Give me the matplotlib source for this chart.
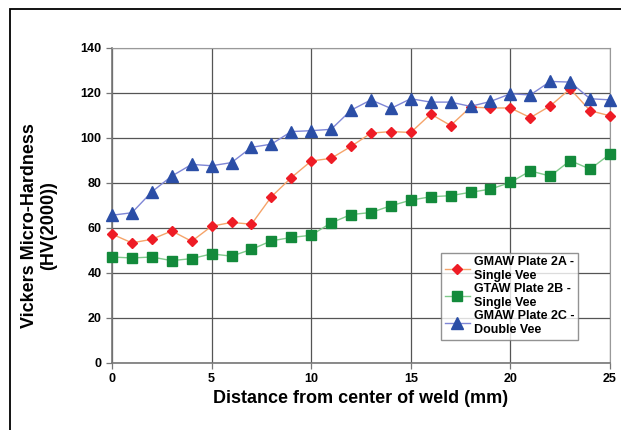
import matplotlib
matplotlib.use("Agg")
import matplotlib.pyplot as plt
from matplotlib.patches import Rectangle

distance = list(range(0, 26))
plate_2a = [57.1, 53.2, 54.8, 58.5, 53.9, 60.6, 62.3, 61.5, 73.7, 82.2, 89.6, 90.8, 96.1,
            102.0, 102.7, 102.3, 110.5, 105.4, 113.6, 113.2, 113.2, 108.9, 114.1, 121.7, 112.0, 109.7]
plate_2b = [46.9, 46.5, 46.9, 45.3, 46.2, 48.3, 47.3, 50.3, 54.1, 55.6, 56.6, 62.1, 65.8,
            66.7, 69.7, 72.2, 73.7, 74.2, 75.7, 77.1, 80.1, 85.2, 82.9, 89.8, 86.0, 92.7]
plate_2c = [65.5, 66.6, 75.9, 82.9, 88.1, 87.5, 88.9, 95.7, 97.1, 102.7, 103.1, 103.7, 112.2,
            116.8, 113.0, 117.3, 115.8, 115.8, 113.9, 116.1, 119.5, 119.0, 125.0, 124.7, 117.3, 116.8]
labels = ["GMAW Plate 2A -\nSingle Vee", "GTAW Plate 2B -\nSingle Vee", "GMAW Plate 2C -\nDouble Vee"]

plt.rcParams['font.family'] = ['Liberation Sans', 'DejaVu Sans']

fig = plt.figure(figsize=(6.21, 4.30), dpi=100)
W, H = 621, 430
ax = fig.add_axes([112 / W, 1 - 362.5 / H, (610 - 112) / W, (362.5 - 47.7) / H])

# outer frame
fig.patches.append(Rectangle((9.5 / W, -0.1), 1.2, 1 - 8.5 / H + 0.1, transform=fig.transFigure,
                             fill=False, edgecolor='black', linewidth=1.3))

ax.plot(distance, plate_2a, color='#f5a46a', lw=1.0, marker='D', markersize=5.5,
        markerfacecolor='#ee1c25', markeredgecolor='#ee1c25', label=labels[0], zorder=3, clip_on=False)
ax.plot(distance, plate_2b, color='#7fc98a', lw=1.0, marker='s', markersize=7,
        markerfacecolor='#138a3b', markeredgecolor='#138a3b', label=labels[1], zorder=3, clip_on=False)
ax.plot(distance, plate_2c, color='#7f86d6', lw=1.0, marker='^', markersize=8,
        markerfacecolor='#2b4ea6', markeredgecolor='#2b4ea6', label=labels[2], zorder=4, clip_on=False)

ax.set_xlim(0, 25)
ax.set_ylim(0, 140)
ax.set_xticks(range(0, 26, 5))
ax.set_yticks(range(0, 141, 20))
ax.grid(True, color='#555555', linewidth=0.9)
ax.set_axisbelow(True)
for s in ['top', 'right']:
    ax.spines[s].set_color('#999999')
for s in ['left', 'bottom']:
    ax.spines[s].set_color('#777777')
    ax.spines[s].set_linewidth(1.2)
ax.tick_params(axis='both', labelsize=9, length=4, color='#777777', width=0.9)
for t in ax.get_xticklabels() + ax.get_yticklabels():
    t.set_fontweight('bold')

ax.set_xlabel("Distance from center of weld (mm)", fontsize=13, fontweight='bold', labelpad=4)
ax.set_ylabel("Vickers Micro-Hardness\n(HV(2000))", fontsize=13, fontweight='bold',
              linespacing=1.2, va='center')
ax.yaxis.set_label_coords((39 - 112) / (610 - 112), (362.5 - 226) / (362.5 - 47.7))

leg = ax.legend(loc='lower left', bbox_to_anchor=((441 - 112) / (610 - 112), (362.5 - 340) / (362.5 - 47.7)),
                fontsize=9, frameon=True, fancybox=False, edgecolor='#777777', handlelength=2.0,
                handletextpad=0.3, borderpad=0.3, labelspacing=0.1, borderaxespad=0)
leg.get_frame().set_linewidth(1.0)
for t in leg.get_texts():
    t.set_fontweight('bold')

fig.savefig("out.png", dpi=100)
